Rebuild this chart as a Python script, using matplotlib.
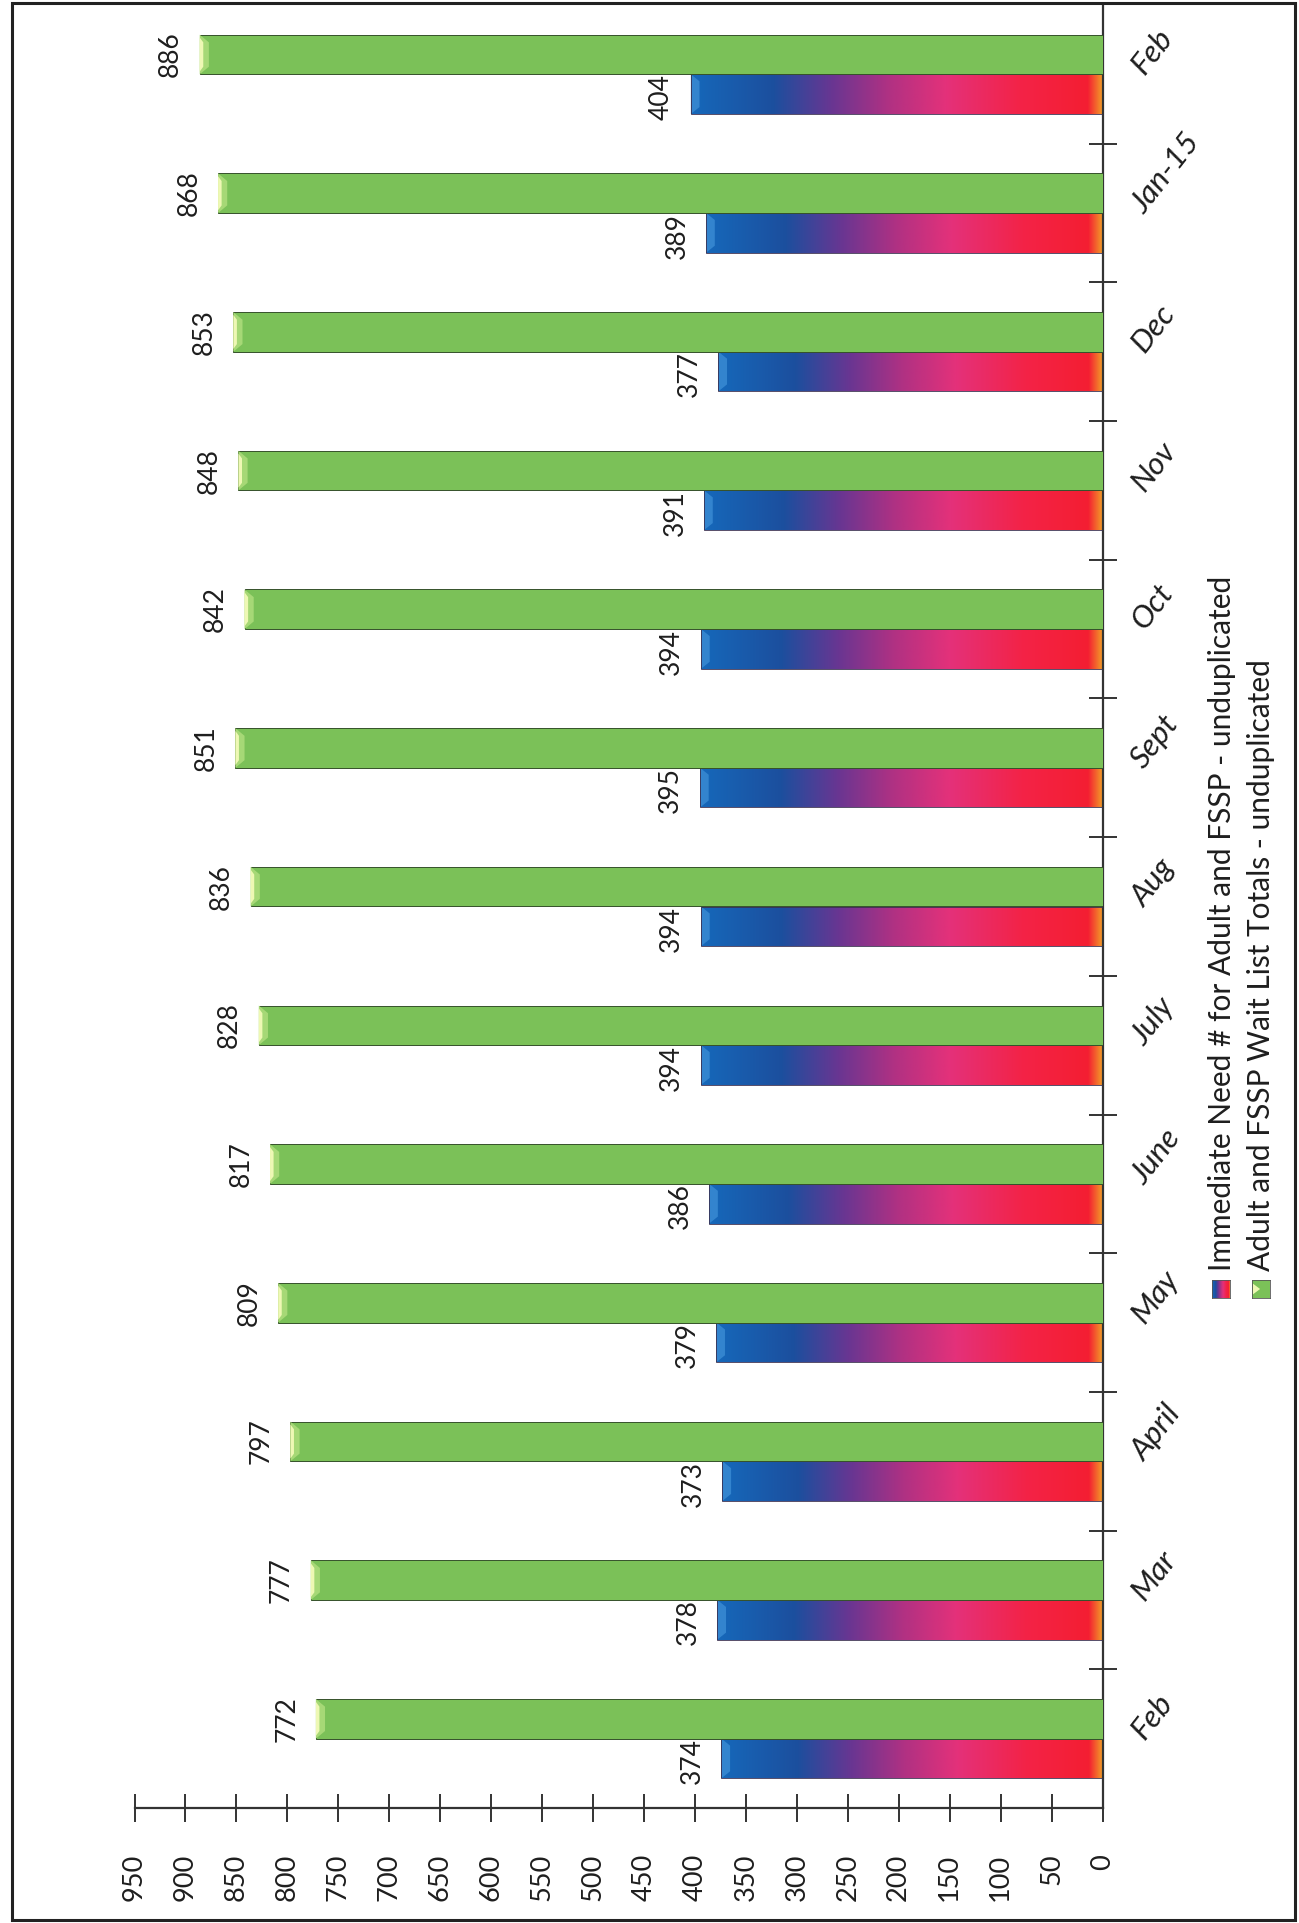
import numpy as np
import matplotlib
matplotlib.use("Agg")
import matplotlib.pyplot as plt
from matplotlib.colors import LinearSegmentedColormap
from matplotlib.patches import Polygon, Rectangle

# ---- data -----------------------------------------------------------------
months = ["Feb", "Mar", "April", "May", "June", "July", "Aug", "Sept",
          "Oct", "Nov", "Dec", "Jan-15", "Feb"]
immediate_need = [374, 378, 373, 379, 386, 394, 394, 395, 394, 391, 377, 389, 404]
wait_list = [772, 777, 797, 809, 817, 828, 836, 851, 842, 848, 853, 868, 886]
value_ticks = list(range(0, 951, 50))
series_names = ["Immediate Need # for Adult and FSSP - unduplicated",
                "Adult and FSSP Wait List Totals - unduplicated"]

# ---- figure geometry (pixels, measured from the top-left corner) ----------
W, H = 1299, 1923
plt.rcParams["font.family"] = ["Lato", "DejaVu Sans"]
TXT = "#1e1e1e"
fig = plt.figure(figsize=(W / 100, H / 100), dpi=100)


def fx(px):
    return px / W


def fy(py):
    return 1 - py / H


ax_l, ax_r, ax_t, ax_b = 134.5, 1102.5, 5, 1808
ax = fig.add_axes([fx(ax_l), fy(ax_b), (ax_r - ax_l) / W, (ax_b - ax_t) / H])

need_cmap = LinearSegmentedColormap.from_list(
    "need",
    [(0.00, "#1668ba"), (0.20, "#1c4f9e"), (0.34, "#683692"), (0.48, "#b03183"),
     (0.62, "#e4317a"), (0.80, "#f32347"), (0.965, "#f41e32"), (1.00, "#f29a28")])
need_grad = need_cmap(np.linspace(0, 1, 256))[None, :, :]
GREEN = "#7bc158"

bar_h = 1 / 3.5
centers = np.arange(len(months)) + 0.5
y_need = centers - bar_h / 2
y_wait = centers + bar_h / 2

need_bars = ax.barh(y_need, immediate_need, height=bar_h, left=0,
                    color="none", edgecolor="#3a3050", linewidth=0.6, zorder=3)
wait_bars = ax.barh(y_wait, wait_list, height=bar_h, left=0,
                    color=GREEN, edgecolor="#35512a", linewidth=0.7, zorder=3)

# gradient fill of the "immediate need" bars, clipped to each bar
for rect, v in zip(need_bars, immediate_need):
    y0 = rect.get_y()
    y1 = y0 + rect.get_height()
    im = ax.imshow(need_grad, extent=[v, 0, y0, y1], aspect="auto",
                   interpolation="bilinear", zorder=2)
    im.set_clip_path(rect)
    # bevelled tip
    d = 8.5
    dy = 0.05
    ax.add_patch(Polygon([(v, y0), (v - d, y0 + dy), (v - d, y1 - dy), (v, y1)],
                         closed=True, fc="#3d8fd6", ec="none", alpha=0.75, zorder=2.5))

# bevelled tip of the wait-list bars
for rect, v in zip(wait_bars, wait_list):
    y0 = rect.get_y()
    y1 = y0 + rect.get_height()
    d = 9
    dy = 0.055
    ax.add_patch(Polygon([(v, y0), (v - d, y0 + dy), (v - d, y1 - dy), (v, y1)],
                         closed=True, fc="#a6d876", ec="none", zorder=3.5))
    ax.add_patch(Polygon([(v, y0 + 0.02), (v - 3.5, y0 + dy), (v - 3.5, y1 - dy), (v, y1 - 0.02)],
                         closed=True, fc="#eef8b4", ec="none", zorder=3.6))

# data labels
for yc, v in zip(y_need, immediate_need):
    ax.annotate(str(v), xy=(v, yc), xytext=(-12, -2), textcoords="offset points",
                rotation=90, ha="right", va="center", fontsize=19, color=TXT)
for yc, v in zip(y_wait, wait_list):
    ax.annotate(str(v), xy=(v, yc), xytext=(-12, 0), textcoords="offset points",
                rotation=90, ha="right", va="center", fontsize=19, color=TXT)

# category labels beside the category axis
for c, m in zip(centers, months):
    ax.annotate(m, xy=(0, c), xytext=(30, -1.5), textcoords="offset points",
                rotation=52, rotation_mode="anchor", ha="left", va="baseline",
                fontsize=22.5, style="italic", color=TXT)

# axes
ax.set_xlim(950, 0)
ax.set_ylim(0, len(months))
ax.set_xticks(value_ticks)
ax.set_xticklabels([str(t) for t in value_ticks], rotation=90, fontsize=19.5, color=TXT)
ax.set_yticks(np.arange(1, len(months)))
ax.yaxis.tick_right()
ax.tick_params(axis="y", direction="inout", length=20, width=1.4,
               colors="#333333", labelright=False)
ax.tick_params(axis="x", direction="inout", length=20, width=1.4,
               color="#333333", pad=23)
for s in ("left", "top"):
    ax.spines[s].set_visible(False)
for s in ("right", "bottom"):
    ax.spines[s].set_linewidth(1.6)
    ax.spines[s].set_color("#333333")
ax.set_facecolor("none")

# legend (drawn by hand, reading bottom to top)
leg_y0 = 1298
mk = 18
ax_m1 = fig.add_axes([fx(1212), fy(leg_y0), mk / W, mk / H])
ax_m1.imshow(need_cmap(np.linspace(0, 1, 64))[None, :, :], aspect="auto",
             extent=[0, 1, 0, 1])
ax_m2 = fig.add_axes([fx(1252), fy(leg_y0), mk / W, mk / H])
ax_m2.add_patch(Rectangle((0, 0), 1, 1, fc=GREEN, ec="none"))
ax_m2.add_patch(Polygon([(0.05, 0.2), (0.45, 0.5), (0.05, 0.8)], closed=True,
                        fc="#eef8b4", ec="none"))
for a in (ax_m1, ax_m2):
    a.set_xlim(0, 1)
    a.set_ylim(0, 1)
    a.set_xticks([])
    a.set_yticks([])
    for s in a.spines.values():
        s.set_linewidth(0.6)
        s.set_color("#555555")

fig.text(fx(1222), fy(1271), series_names[0], rotation=90, ha="center",
         va="bottom", fontsize=21.5, color=TXT)
fig.text(fx(1261), fy(1271), series_names[1], rotation=90, ha="center",
         va="bottom", fontsize=21.5, color=TXT)

# outer frame
fig.add_artist(Rectangle((fx(12), fy(1920)), (1295 - 12) / W, (1920 - 3) / H,
                         transform=fig.transFigure, fill=False, lw=2.2, ec="#222222"))

fig.savefig("out.png", dpi=100)
